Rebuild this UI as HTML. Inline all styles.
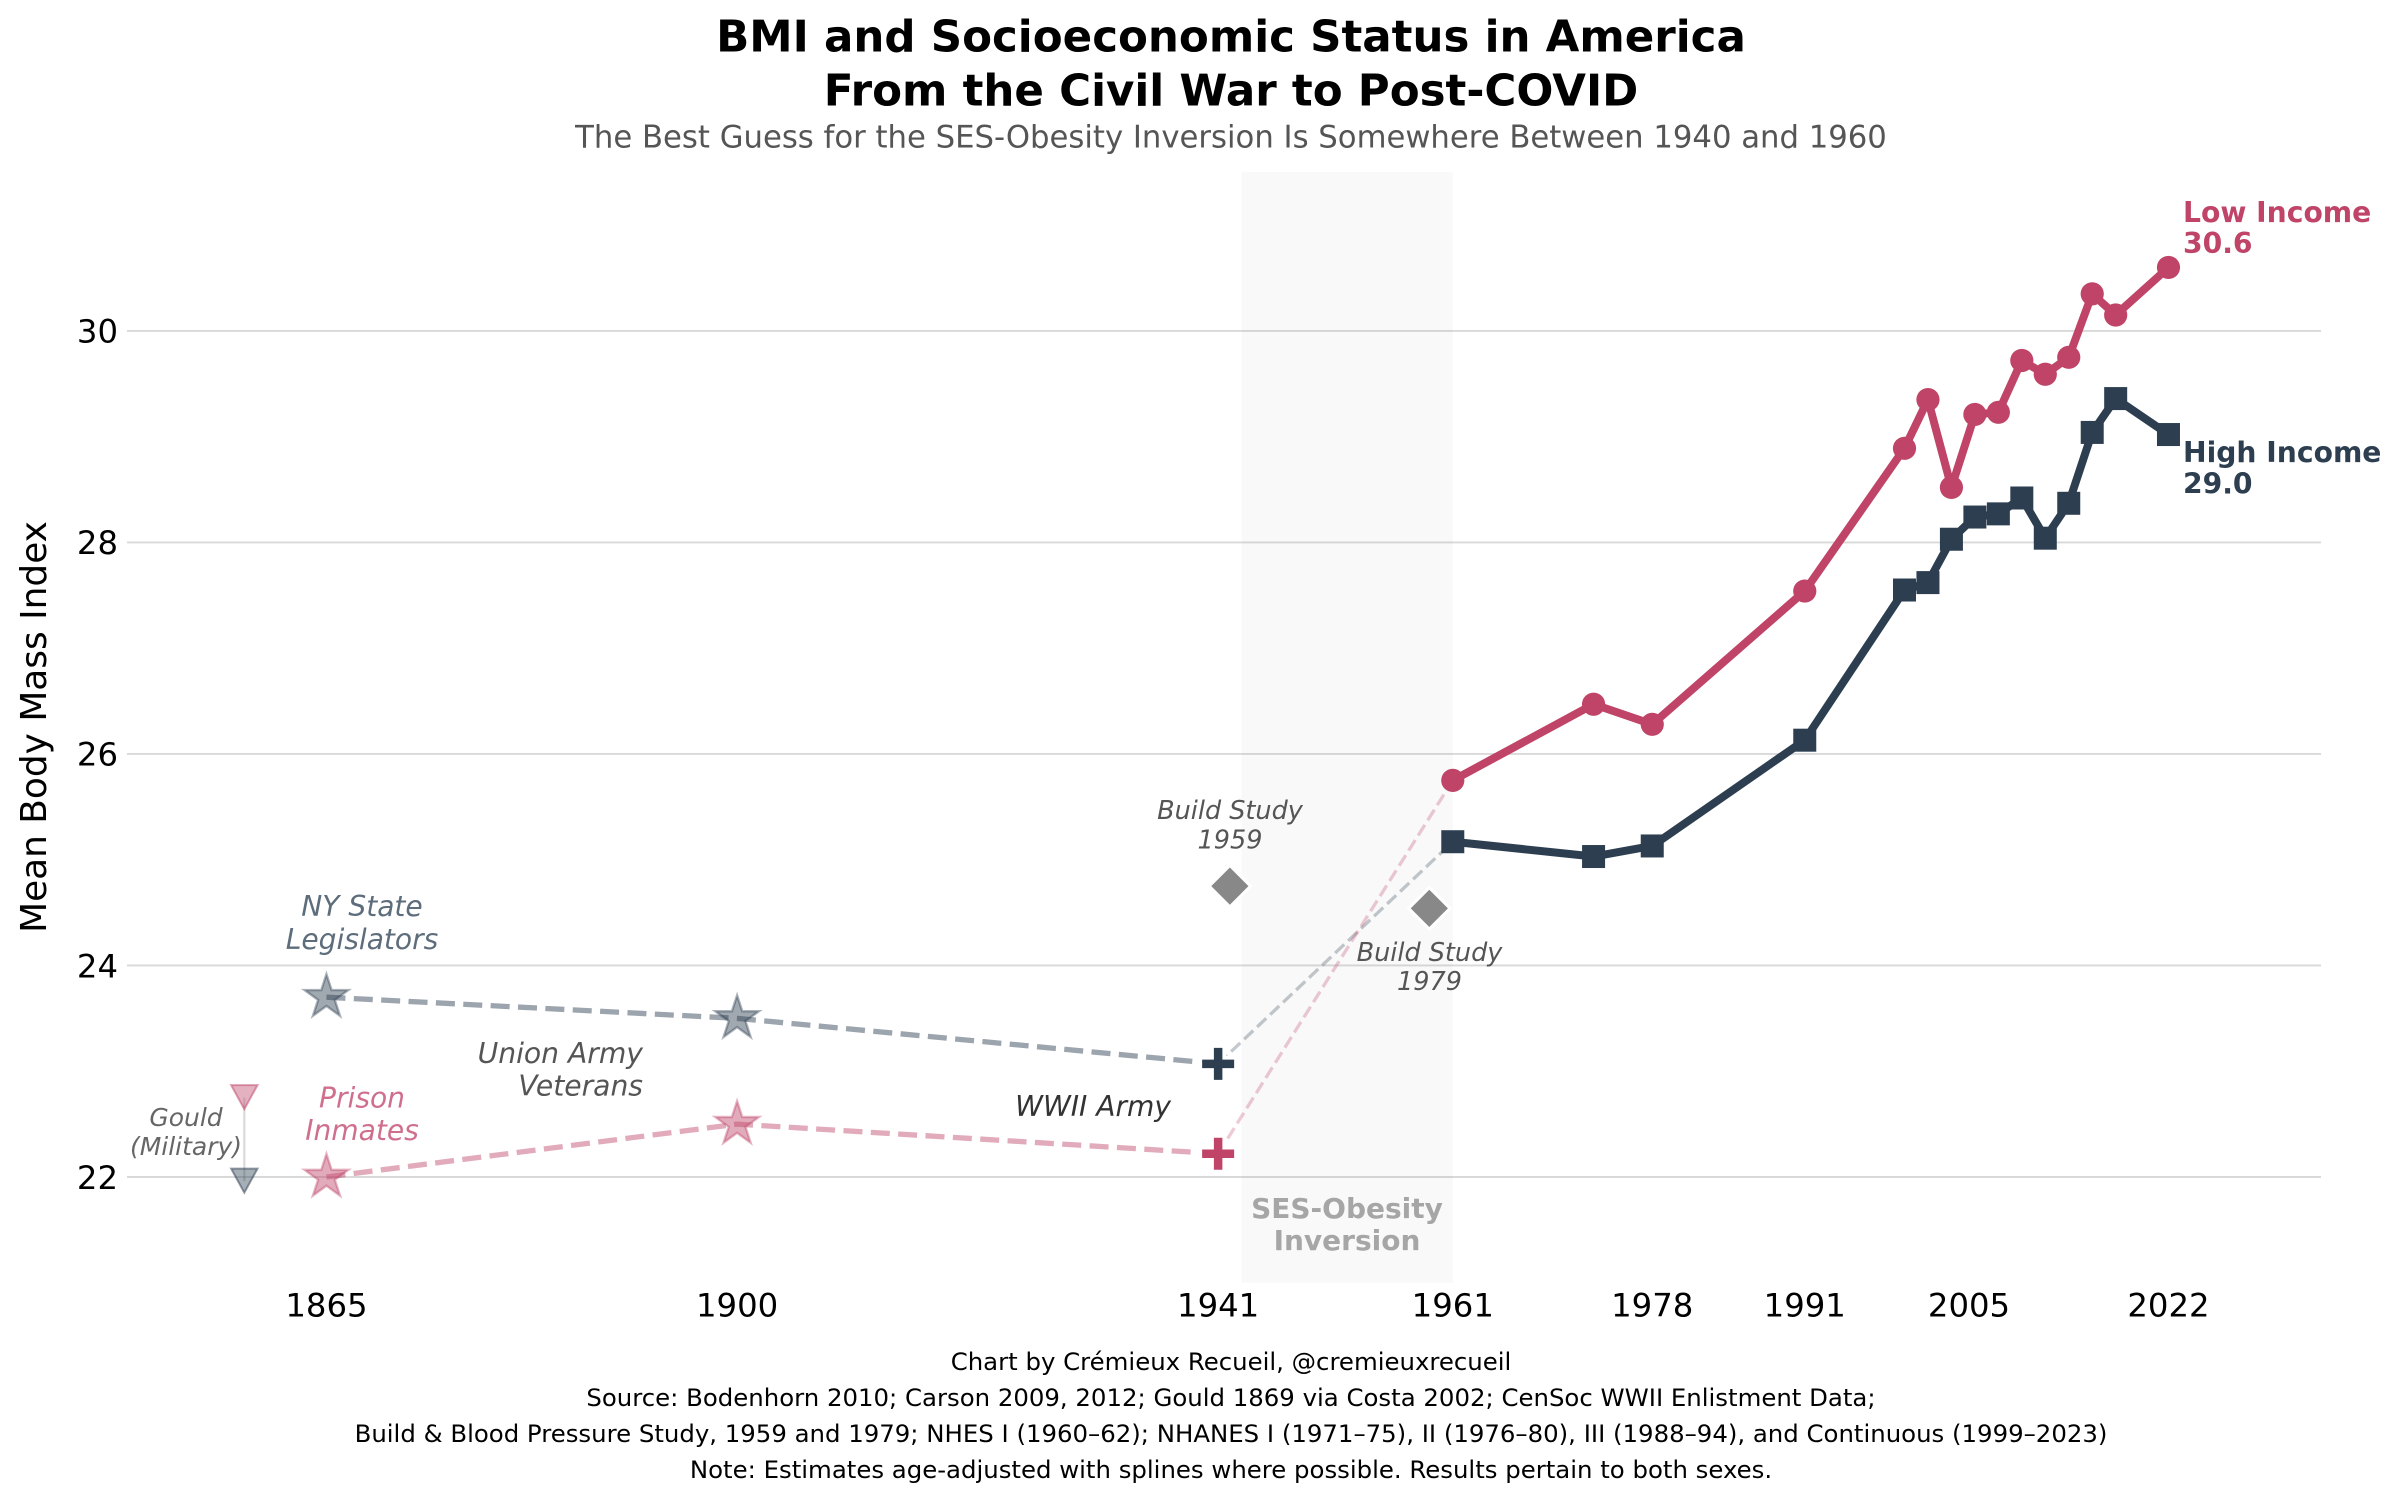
<!DOCTYPE html>
<html lang="en">
<head>
<meta charset="utf-8">
<title>BMI and Socioeconomic Status in America</title>
<style>
html,body{margin:0;padding:0;background:#fff;}
svg{display:block;font-family:"DejaVu Sans","Liberation Sans",sans-serif;}
</style>
</head>
<body>
<svg id="chart" xmlns="http://www.w3.org/2000/svg" width="2400" height="1502" viewBox="0 0 2400 1502">
  <rect width="2400" height="1502" fill="#fff"/>
  <g id="grid"></g>
  <g id="band"></g>
  <g id="marks"></g>
  <g id="xticks" font-size="32.3" fill="#000" text-anchor="middle"></g>
  <g id="yticks" font-size="32.3" fill="#000" text-anchor="end"></g>

  <text x="1231" text-anchor="middle" font-weight="bold" font-size="43.55" fill="#000"><tspan x="1231" y="51.7">BMI and Socioeconomic Status in America</tspan><tspan x="1231" y="105.7">From the Civil War to Post-COVID</tspan></text>
  <text x="1231" y="147.5" text-anchor="middle" font-size="30.7" fill="#555">The Best Guess for the SES-Obesity Inversion Is Somewhere Between 1940 and 1960</text>
  <text transform="translate(46,727) rotate(-90)" text-anchor="middle" font-size="35.9" fill="#000">Mean Body Mass Index</text>

  <g font-style="italic">
    <text text-anchor="middle" font-size="28.1" fill="#5e6d7b"><tspan x="362" y="916">NY State</tspan><tspan x="362" y="949">Legislators</tspan></text>
    <text text-anchor="end" font-size="28.2" fill="#555"><tspan x="643" y="1063">Union Army</tspan><tspan x="643" y="1095.5">Veterans</tspan></text>
    <text text-anchor="middle" font-size="28.1" fill="#cf6f8d"><tspan x="362" y="1107.5">Prison</tspan><tspan x="362" y="1140">Inmates</tspan></text>
    <text text-anchor="middle" font-size="25" fill="#666"><tspan x="186" y="1126">Gould</tspan><tspan x="186" y="1155">(Military)</tspan></text>
    <text x="1171" y="1116" text-anchor="end" font-size="28.1" fill="#333">WWII Army</text>
    <text text-anchor="middle" font-size="25.5" fill="#555"><tspan x="1230" y="819">Build Study</tspan><tspan x="1230" y="848.5">1959</tspan></text>
    <text text-anchor="middle" font-size="25.5" fill="#555"><tspan x="1429.5" y="961">Build Study</tspan><tspan x="1429.5" y="990">1979</tspan></text>
  </g>
  <text text-anchor="middle" font-weight="bold" font-size="28" fill="#a6a6a6"><tspan x="1347" y="1218">SES-Obesity</tspan><tspan x="1347" y="1250">Inversion</tspan></text>
  <text font-weight="bold" font-size="28.2" fill="#BF4468"><tspan x="2183" y="222">Low Income</tspan><tspan id="lowEnd" x="2183" y="253"></tspan></text>
  <text font-weight="bold" font-size="28.2" fill="#2C3E50"><tspan x="2183" y="462">High Income</tspan><tspan id="highEnd" x="2183" y="493.5"></tspan></text>

  <g text-anchor="middle" font-size="24.4" fill="#000">
    <text x="1231" y="1370">Chart by Crémieux Recueil, @cremieuxrecueil</text>
    <text x="1231" y="1406">Source: Bodenhorn 2010; Carson 2009, 2012; Gould 1869 via Costa 2002; CenSoc WWII Enlistment Data;</text>
    <text x="1231" y="1442">Build &amp; Blood Pressure Study, 1959 and 1979; NHES I (1960–62); NHANES I (1971–75), II (1976–80), III (1988–94), and Continuous (1999–2023)</text>
    <text x="1231" y="1478">Note: Estimates age-adjusted with splines where possible. Results pertain to both sexes.</text>
  </g>
</svg>
<script>
const modernYears = [1961, 1973, 1978, 1991, 1999.5, 2001.5, 2003.5, 2005.5, 2007.5, 2009.5, 2011.5, 2013.5, 2015.5, 2017.5, 2022];
const lowIncome = [25.75, 26.47, 26.28, 27.54, 28.89, 29.35, 28.52, 29.21, 29.23, 29.72, 29.59, 29.75, 30.35, 30.15, 30.6];
const highIncome = [25.17, 25.03, 25.13, 26.13, 27.55, 27.62, 28.03, 28.24, 28.27, 28.42, 28.04, 28.37, 29.04, 29.36, 29.02];
const historicalYears = [1865, 1900];
const historicalLow = [22.0, 22.5];
const historicalHigh = [23.7, 23.5];
const wwiiYear = [1941];
const wwiiLow = [22.22];
const wwiiHigh = [23.07];
const gouldYear = [1858];
const gouldLow = [22.75];
const gouldHigh = [21.96];
const buildYears = [1942, 1959];
const buildValues = [24.75, 24.54];
const inversionBand = [1943, 1961];
const xTickYears = [1865, 1900, 1941, 1961, 1978, 1991, 2005, 2022];
const xTickLabels = ['1865', '1900', '1941', '1961', '1978', '1991', '2005', '2022'];
const yTickValues = [22, 24, 26, 28, 30];
const yTickLabels = ['22', '24', '26', '28', '30'];

const RED = '#BF4468';
const NAVY = '#2C3E50';
const NS = 'http://www.w3.org/2000/svg';
const X_MIN = 1848, X_MAX = 2035, Y_MIN = 21, Y_MAX = 31.5;
const PX_LEFT = 127, PX_RIGHT = 2321, PX_BOTTOM = 1282.75, PX_TOP = 172.25;

function xScale(year) { return PX_LEFT + (year - X_MIN) * (PX_RIGHT - PX_LEFT) / (X_MAX - X_MIN); }
function yScale(value) { return PX_BOTTOM - (value - Y_MIN) * (PX_BOTTOM - PX_TOP) / (Y_MAX - Y_MIN); }

function make(tag, parentId, attrs) {
  const el = document.createElementNS(NS, tag);
  for (const k in attrs) el.setAttribute(k, attrs[k]);
  document.getElementById(parentId).appendChild(el);
  return el;
}
function pts(xs, ys) { return xs.map((v, i) => xScale(v).toFixed(2) + ',' + yScale(ys[i]).toFixed(2)).join(' '); }

yTickValues.forEach((v, i) => {
  const line = make('line', 'grid', { x1: PX_LEFT, x2: PX_RIGHT, y1: yScale(v), y2: yScale(v), stroke: '#d9d9d9', 'stroke-width': 1.9 });
  
  
  const label = make('text', 'yticks', { x: 118, y: yScale(v) + 11.8 });
  label.textContent = yTickLabels[i];
  
  
});
xTickYears.forEach((yr, i) => {
  const label = make('text', 'xticks', { x: xScale(yr), y: 1316.4 });
  label.textContent = xTickLabels[i];
  
  
});

const bandRect = make('rect', 'band', { x: xScale(inversionBand[0]), y: PX_TOP, width: xScale(inversionBand[1]) - xScale(inversionBand[0]), height: PX_BOTTOM - PX_TOP, fill: '#808080', 'fill-opacity': 0.05 });



/* Gould connector and triangles */
const gouldLine = make('line', 'marks', { x1: xScale(gouldYear[0]), x2: xScale(gouldYear[0]), y1: yScale(gouldLow[0]), y2: yScale(gouldHigh[0]), stroke: '#808080', 'stroke-opacity': 0.3, 'stroke-width': 2.2 });



function triangleDown(year, value, color) {
  const cx = xScale(year), cy = yScale(value), r = 13.2;
  return make('polygon', 'marks', { points: (cx - r) + ',' + (cy - 12.6) + ' ' + (cx + r) + ',' + (cy - 12.6) + ' ' + cx + ',' + (cy + 11.5), fill: color, 'fill-opacity': 0.42, stroke: color, 'stroke-opacity': 0.5, 'stroke-width': 2 });
}
const gouldLowMark = triangleDown(gouldYear[0], gouldLow[0], RED);


const gouldHighMark = triangleDown(gouldYear[0], gouldHigh[0], NAVY);



/* Stars */
function starPoints(cx, cy) {
  const R = 23, r = R * 0.382, out = [];
  for (let i = 0; i < 10; i++) {
    const a = -Math.PI / 2 + i * Math.PI / 5, q = i % 2 ? r : R;
    out.push((cx + q * Math.cos(a)).toFixed(2) + ',' + (cy + q * Math.sin(a)).toFixed(2));
  }
  return out.join(' ');
}
historicalYears.forEach((yr, i) => {
  const hi = make('polygon', 'marks', { points: starPoints(xScale(yr), yScale(historicalHigh[i])), fill: NAVY, 'fill-opacity': 0.45, stroke: NAVY, 'stroke-opacity': 0.4, 'stroke-width': 2.4 });
  
  
  const lo = make('polygon', 'marks', { points: starPoints(xScale(yr), yScale(historicalLow[i])), fill: RED, 'fill-opacity': 0.45, stroke: RED, 'stroke-opacity': 0.4, 'stroke-width': 2.4 });
  
  
});

/* Historical dashed lines */
const histHighLine = make('polyline', 'marks', { points: pts(historicalYears.concat(wwiiYear), historicalHigh.concat(wwiiHigh)), fill: 'none', stroke: NAVY, 'stroke-opacity': 0.47, 'stroke-width': 5.3, 'stroke-dasharray': '19 8.4' });


const histLowLine = make('polyline', 'marks', { points: pts(historicalYears.concat(wwiiYear), historicalLow.concat(wwiiLow)), fill: 'none', stroke: RED, 'stroke-opacity': 0.45, 'stroke-width': 5.3, 'stroke-dasharray': '19 8.4' });



/* Thin bridges from WWII to first modern estimate */
const bridgeHigh = make('polyline', 'marks', { points: pts([wwiiYear[0], modernYears[0]], [wwiiHigh[0], highIncome[0]]), fill: 'none', stroke: NAVY, 'stroke-opacity': 0.28, 'stroke-width': 3.3, 'stroke-dasharray': '12.5 5.4' });


const bridgeLow = make('polyline', 'marks', { points: pts([wwiiYear[0], modernYears[0]], [wwiiLow[0], lowIncome[0]]), fill: 'none', stroke: RED, 'stroke-opacity': 0.28, 'stroke-width': 3.3, 'stroke-dasharray': '12.5 5.4' });



/* WWII plus markers */
function plusPath(cx, cy, L) {
  return 'M' + (cx - L) + ' ' + cy + 'H' + (cx + L) + 'M' + cx + ' ' + (cy - L) + 'V' + (cy + L);
}
const haloHigh = make('path', 'marks', { d: plusPath(xScale(wwiiYear[0]), yScale(wwiiHigh[0]), 20), stroke: '#fff', 'stroke-width': 16, fill: 'none' });


const plusHigh = make('path', 'marks', { d: plusPath(xScale(wwiiYear[0]), yScale(wwiiHigh[0]), 16), stroke: NAVY, 'stroke-width': 8.5, fill: 'none' });


const haloLow = make('path', 'marks', { d: plusPath(xScale(wwiiYear[0]), yScale(wwiiLow[0]), 20), stroke: '#fff', 'stroke-width': 16, fill: 'none' });


const plusLow = make('path', 'marks', { d: plusPath(xScale(wwiiYear[0]), yScale(wwiiLow[0]), 16), stroke: RED, 'stroke-width': 8.5, fill: 'none' });



/* Build study diamonds */
function diamondPoints(cx, cy, r) {
  return cx + ',' + (cy - r) + ' ' + (cx + r) + ',' + cy + ' ' + cx + ',' + (cy + r) + ' ' + (cx - r) + ',' + cy;
}
buildYears.forEach((yr, i) => {
  const cx = xScale(yr), cy = yScale(buildValues[i]);
  const halo = make('polygon', 'marks', { points: diamondPoints(cx, cy, 23), fill: '#fff' });
  
  
  const d = make('polygon', 'marks', { points: diamondPoints(cx, cy, 18.6), fill: '#888' });
  
  
});

/* Modern series */
const lowLine = make('polyline', 'marks', { points: pts(modernYears, lowIncome), fill: 'none', stroke: RED, 'stroke-width': 8, 'stroke-linejoin': 'round' });


const highLine = make('polyline', 'marks', { points: pts(modernYears, highIncome), fill: 'none', stroke: NAVY, 'stroke-width': 8, 'stroke-linejoin': 'round' });



modernYears.forEach((yr, i) => {
  const c = make('circle', 'marks', { cx: xScale(yr), cy: yScale(lowIncome[i]), r: 11.6, fill: RED });
  
  
  const s = make('rect', 'marks', { x: xScale(yr) - 11.5, y: yScale(highIncome[i]) - 11.5, width: 23, height: 23, fill: NAVY });
  
  
});

document.getElementById('lowEnd').textContent = lowIncome[lowIncome.length - 1].toFixed(1);
document.getElementById('highEnd').textContent = highIncome[highIncome.length - 1].toFixed(1);
</script>
</body>
</html>
